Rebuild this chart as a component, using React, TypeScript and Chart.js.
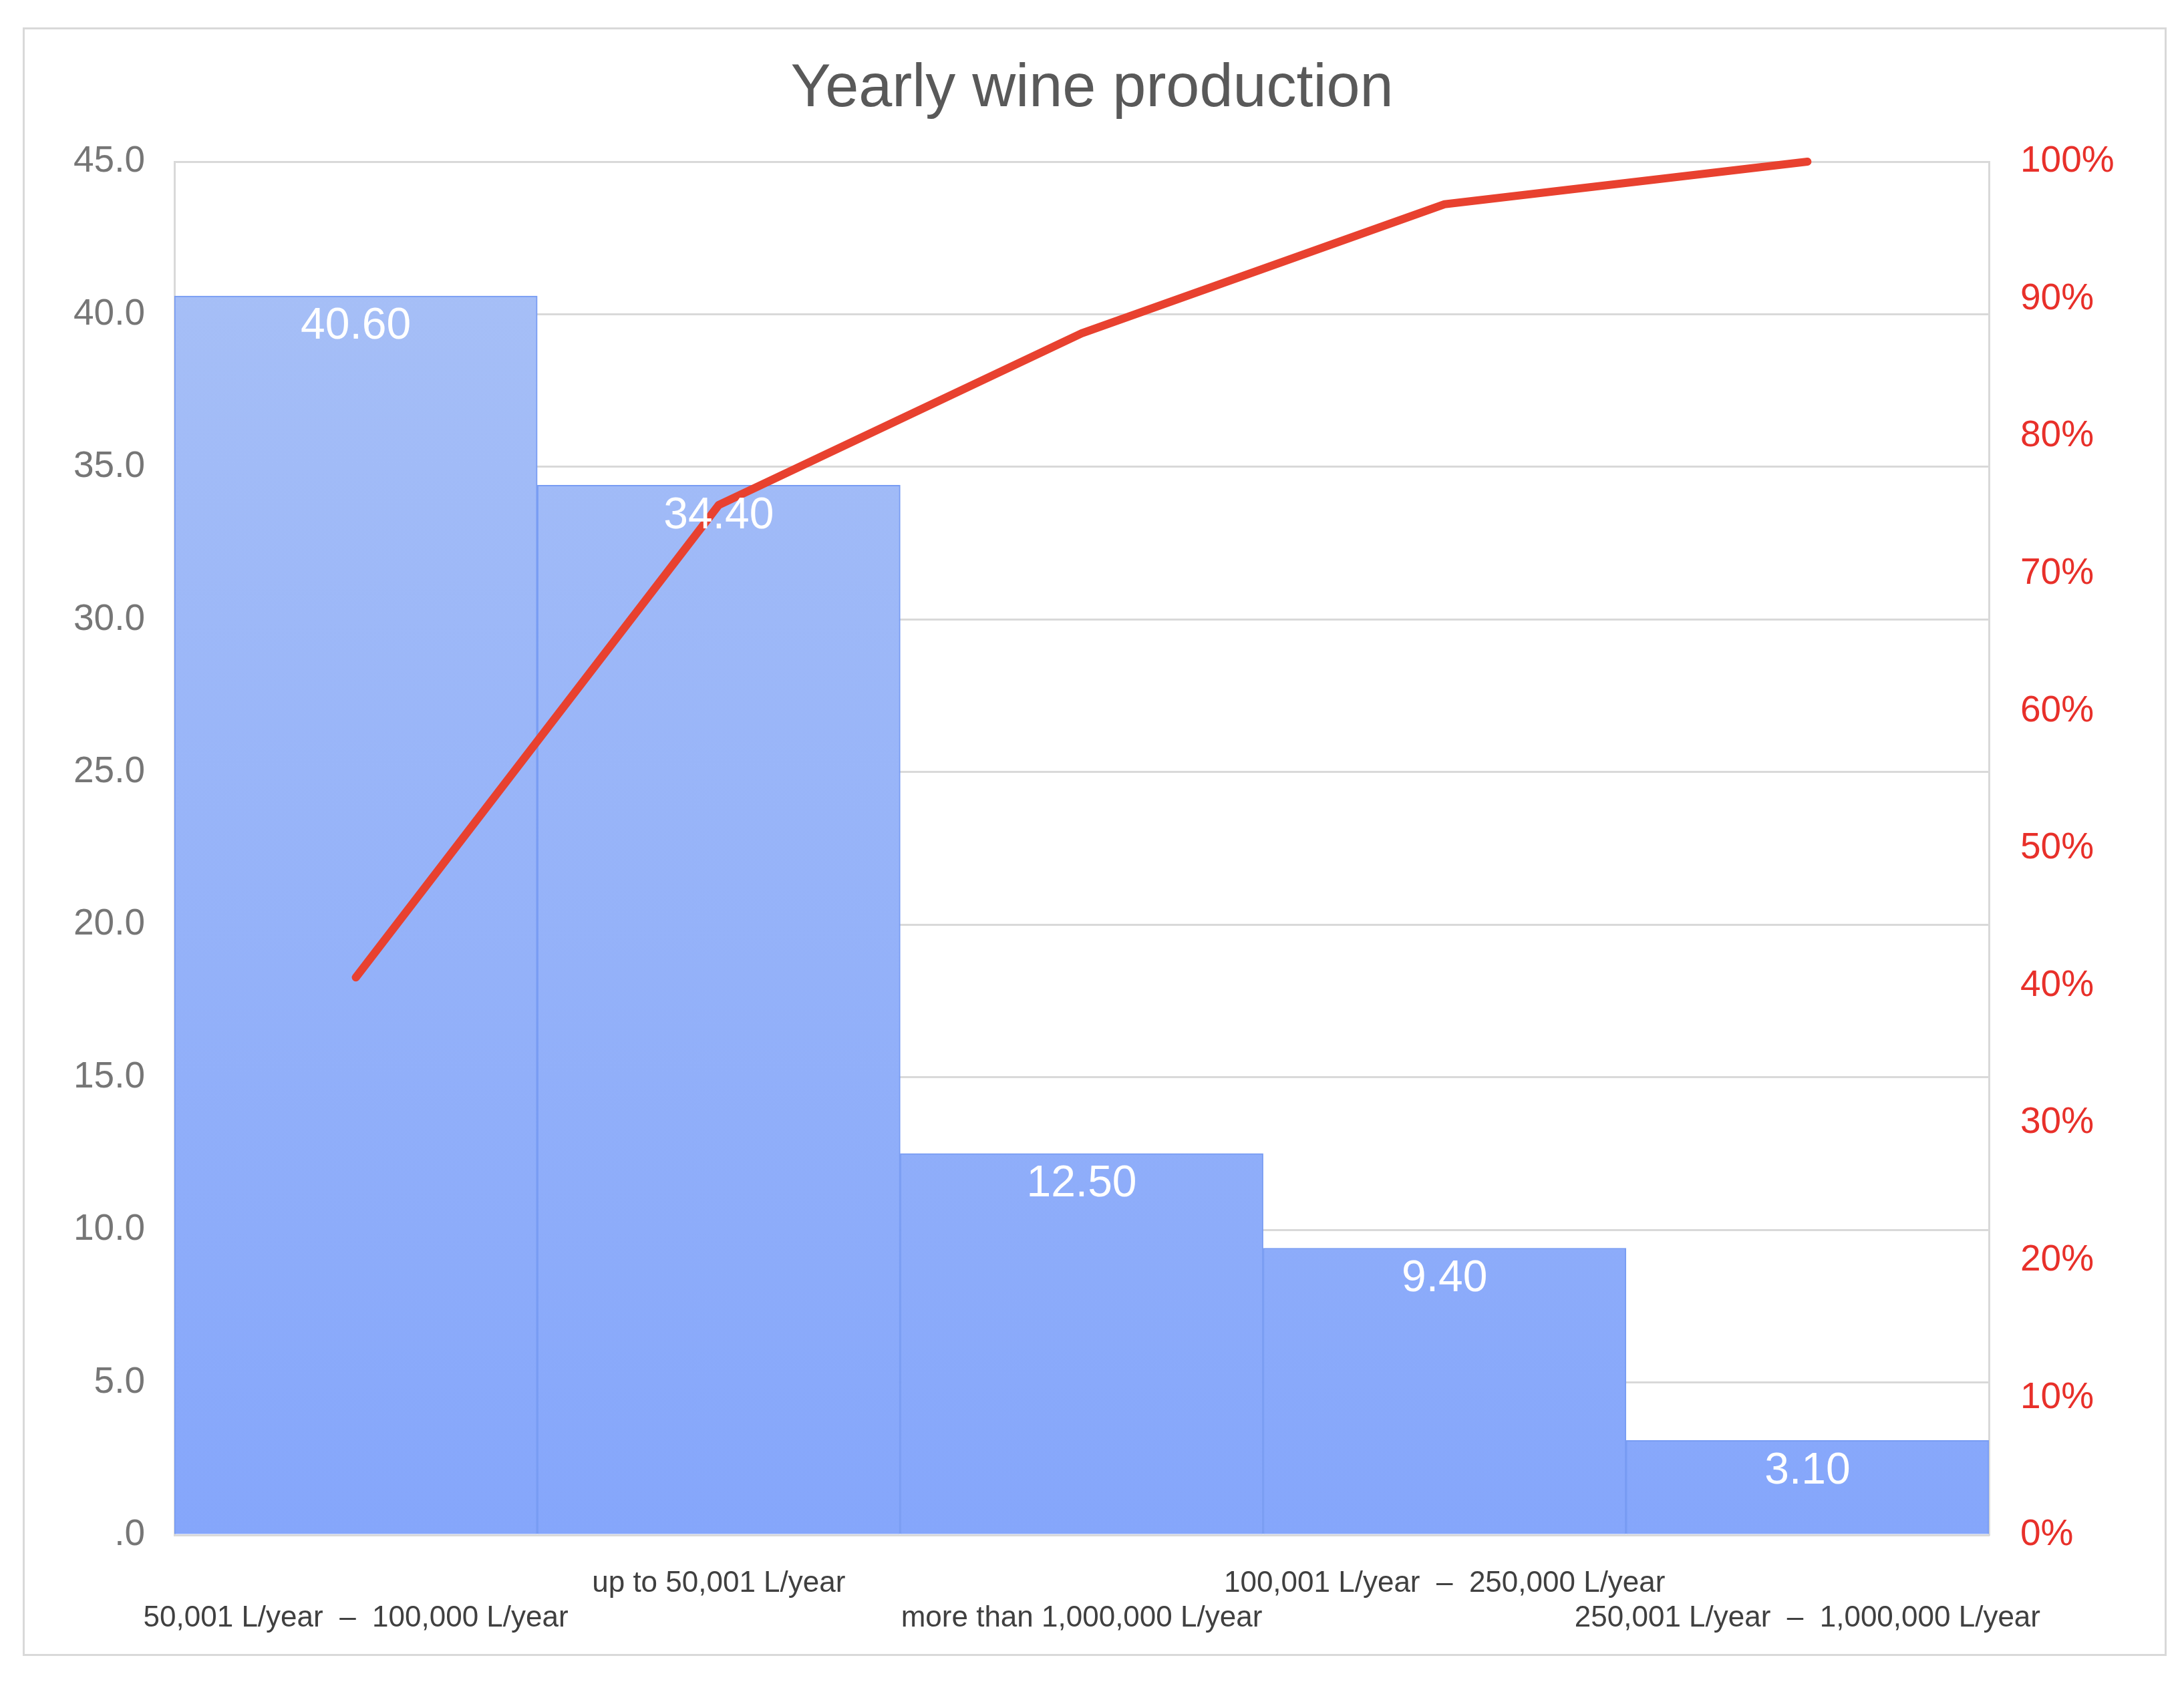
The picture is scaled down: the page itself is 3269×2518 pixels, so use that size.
import React, { useEffect, useRef } from "react";
import { Chart, registerables } from "chart.js";

Chart.register(...registerables);

const title = "Yearly wine production";
const categories = [
  "50,001 L/year  –  100,000 L/year",
  "up to 50,001 L/year",
  "more than 1,000,000 L/year",
  "100,001 L/year  –  250,000 L/year",
  "250,001 L/year  –  1,000,000 L/year",
];
const shares = [40.6, 34.4, 12.5, 9.4, 3.1];
const cumulativePct = [40.6, 75.0, 87.5, 96.9, 100.0];
const leftTicks = { min: 0, max: 45, step: 5 };
const rightTicks = { min: 0, max: 100, step: 10 };

const FONT = "'Liberation Sans', Arial, sans-serif";

const valueLabels = {
  id: "valueLabels",
  afterDatasetsDraw(chart: any) {
    const ctx = chart.ctx;
    const meta = chart.getDatasetMeta(1);
    ctx.save();
    ctx.fillStyle = "#ffffff";
    ctx.font = `66px ${FONT}`;
    ctx.textAlign = "center";
    ctx.textBaseline = "middle";
    meta.data.forEach((el: any, i: number) => {
      ctx.fillText(shares[i].toFixed(2), el.x, el.y + 46);
    });
    ctx.restore();
  },
};

export default function App() {
  const ref = useRef<HTMLCanvasElement>(null);

  useEffect(() => {
    if (!ref.current) return;
    const chart = new Chart(ref.current, {
      type: "bar",
      data: {
        labels: categories,
        datasets: [
          {
            type: "line",
            data: cumulativePct,
            yAxisID: "y1",
            borderColor: "#e8412f",
            borderWidth: 12,
            borderCapStyle: "round",
            borderJoinStyle: "round",
            pointRadius: 0,
            fill: false,
            tension: 0,
            clip: false,
            order: 0,
          } as any,
          {
            type: "bar",
            data: shares,
            yAxisID: "y",
            categoryPercentage: 1,
            barPercentage: 1,
            borderWidth: 2,
            borderColor: "#789cf3",
            backgroundColor: (c: any) => {
              const area = c.chart.chartArea;
              if (!area) return "#95b2f8";
              const g = c.chart.ctx.createLinearGradient(0, area.top, 0, area.bottom);
              g.addColorStop(0, "#a9c1f6");
              g.addColorStop(1, "#85a6fb");
              return g;
            },
            order: 1,
          } as any,
        ],
      },
      options: {
        responsive: false,
        maintainAspectRatio: false,
        animation: false,
        layout: { padding: 0 },
        plugins: {
          legend: { display: false },
          tooltip: { enabled: false },
          title: {
            display: true,
            text: title,
            color: "#595959",
            font: { family: FONT, size: 90, weight: "normal", lineHeight: 1.2 },
            padding: { top: 80, bottom: 54 },
          },
        },
        scales: {
          x: {
            grid: { display: false, drawTicks: false, tickLength: 0 },
            border: { display: true, color: "#d9d9d9", width: 3 },
            ticks: {
              autoSkip: false,
              maxRotation: 0,
              minRotation: 0,
              padding: 46,
              color: "#404040",
              font: { family: FONT, size: 44, lineHeight: 1.2 },
              callback: (_v: any, i: number) =>
                i % 2 === 0 ? ["", categories[i]] : [categories[i], ""],
            },
            afterFit: (s: any) => {
              s.height = 220;
            },
          },
          y: {
            position: "left",
            min: leftTicks.min,
            max: leftTicks.max,
            grid: { color: "#d9d9d9", lineWidth: 3, drawTicks: false, tickLength: 0 },
            border: { display: true, color: "#d9d9d9", width: 3 },
            ticks: {
              stepSize: leftTicks.step,
              padding: 44,
              color: "#767676",
              font: { family: FONT, size: 55 },
              callback: (v: any) => (Number(v) === 0 ? ".0" : Number(v).toFixed(1)),
            },
            afterFit: (s: any) => {
              s.width = 261;
            },
          },
          y1: {
            position: "right",
            min: rightTicks.min,
            max: rightTicks.max,
            grid: { display: false, drawTicks: false, tickLength: 0 },
            border: { display: true, color: "#d9d9d9", width: 3 },
            ticks: {
              stepSize: rightTicks.step,
              padding: 47,
              color: "#e8302a",
              font: { family: FONT, size: 55 },
              callback: (v: any) => `${v}%`,
            },
            afterFit: (s: any) => {
              s.width = 292;
            },
          },
        },
      } as any,
      plugins: [valueLabels],
    });
    return () => chart.destroy();
  }, []);

  return (
    <div
      style={{
        position: "fixed",
        left: 0,
        top: 0,
        width: 3269,
        height: 2518,
        background: "#ffffff",
      }}
    >
      <div
        style={{
          position: "absolute",
          left: 34,
          top: 41,
          width: 3209,
          height: 2438,
          border: "3px solid #d9d9d9",
          boxSizing: "border-box",
        }}
      />
      <canvas
        ref={ref}
        width={3269}
        height={2518}
        style={{ position: "absolute", left: 0, top: 0, width: 3269, height: 2518 }}
      />
    </div>
  );
}
